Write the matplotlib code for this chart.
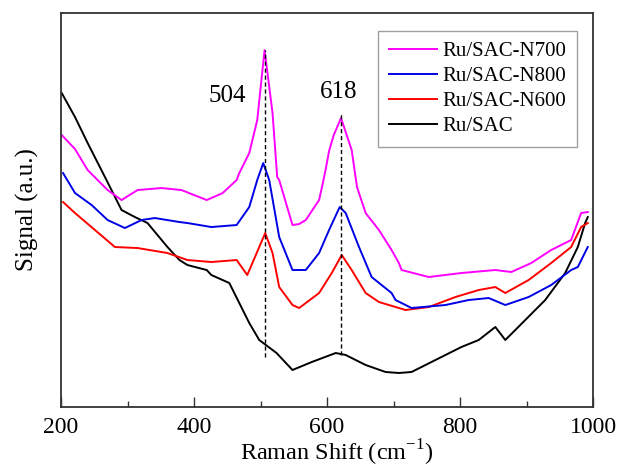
import numpy as np
import matplotlib
matplotlib.use("Agg")
import matplotlib.pyplot as plt
from matplotlib.ticker import MultipleLocator

plt.rcParams['font.family'] = ['Liberation Serif', 'DejaVu Serif']
plt.rcParams['mathtext.fontset'] = 'custom'
plt.rcParams['mathtext.rm'] = 'Liberation Serif'

# Raman shift (cm-1) and signal (a.u.)
x_n700 = [201, 221, 240, 270, 291, 315, 351, 381, 419, 426, 443, 464, 468, 483,
          495, 506, 518, 525, 528, 548, 558, 568, 588, 593, 598, 603, 610, 621,
          637, 645, 658, 678, 697, 708, 712, 753, 802, 853, 877, 907, 937, 967,
          982, 992]
y_n700 = [272, 258, 237, 217, 207, 217, 219, 217, 207, 209, 214, 227, 234, 254,
          287, 357, 294, 230, 227, 182, 183, 187, 207, 222, 238, 256, 272, 289,
          257, 220, 194, 177, 157, 144, 137, 130, 134, 137, 135, 144, 157, 167,
          194, 195]

x_n800 = [203, 221, 246, 270, 296, 321, 341, 378, 390, 426, 464, 483, 495, 504,
          513, 528, 548, 568, 588, 603, 619, 628, 648, 667, 697, 703, 727, 778,
          813, 843, 868, 903, 937, 967, 977, 992]
y_n800 = [234, 214, 202, 187, 179, 187, 189, 185, 184, 180, 182, 200, 227, 244,
          227, 170, 137, 137, 154, 177, 200, 194, 160, 130, 114, 107, 99, 102,
          107, 109, 102, 110, 122, 137, 140, 160]

x_n600 = [203, 221, 251, 281, 315, 360, 390, 426, 464, 480, 498, 507, 518, 528,
          548, 558, 588, 607, 622, 637, 658, 678, 708, 718, 753, 793, 828, 853,
          868, 903, 937, 967, 982, 992]
y_n600 = [205, 194, 177, 160, 159, 154, 147, 145, 147, 132, 160, 174, 154, 120,
          102, 99, 114, 134, 152, 137, 114, 105, 99, 97, 100, 110, 117, 120,
          114, 127, 144, 160, 180, 184]

x_sac = [201, 221, 240, 266, 291, 311, 330, 360, 378, 390, 419, 426, 453, 468,
         483, 498, 524, 548, 577, 613, 628, 658, 688, 708, 727, 763, 802, 828,
         853, 868, 898, 928, 958, 977, 988, 992]
y_sac = [314, 290, 264, 230, 197, 190, 184, 160, 147, 142, 137, 132, 124, 104,
         84, 67, 54, 37, 45, 54, 52, 42, 35, 34, 35, 47, 60, 67, 80, 67, 87,
         107, 134, 160, 184, 190]

peak_x = [507, 621]
peak_top = [357, 295]
peak_bottom = [50, 52]
peak_labels = ['504', '618']

fig = plt.figure(figsize=(6.23, 4.67), dpi=100)
ax = fig.add_axes([0.098, 0.1285, 0.854, 0.8435])

ax.plot(x_sac, y_sac, color='black', lw=1.4, label='Ru/SAC')
ax.plot(x_n600, y_n600, color='#ff0000', lw=1.4, label='Ru/SAC-N600')
ax.plot(x_n800, y_n800, color='#0000e6', lw=1.4, label='Ru/SAC-N800')
ax.plot(x_n700, y_n700, color='#ff00ff', lw=1.4, label='Ru/SAC-N700')

# dashed markers at the two peaks
for px, top, bot in zip(peak_x, peak_top, peak_bottom):
    ax.plot([px, px], [bot, top], color='black', lw=1.0, ls=(0, (3, 2)))

ax.text(450, 311, peak_labels[0], fontsize=18, ha='center', va='center')
ax.text(618, 315, peak_labels[1], fontsize=18, ha='center', va='center')

ax.set_xlim(200, 1000)
ax.set_ylim(0, 394)
ax.xaxis.set_major_locator(MultipleLocator(200))
ax.xaxis.set_minor_locator(MultipleLocator(100))
ax.tick_params(axis='x', which='major', direction='in', length=7, width=1,
               labelsize=17, pad=7, color='#333333')
ax.tick_params(axis='x', which='minor', direction='in', length=4, width=1,
               color='#333333')
ax.set_yticks([])
for s in ax.spines.values():
    s.set_color('#333333')
    s.set_linewidth(1.3)

ax.set_xlabel('Raman Shift (cm$^{-1}$)', fontsize=17.5, labelpad=0)
ax.xaxis.set_label_coords(0.519, -0.079)
ax.set_ylabel('Signal (a.u.)', fontsize=18, labelpad=16)

handles, labels = ax.get_legend_handles_labels()
order = [3, 2, 1, 0]
leg = ax.legend([handles[i] for i in order], [labels[i] for i in order],
                loc='upper right', bbox_to_anchor=(0.970, 0.955),
                borderaxespad=0, fontsize=15, frameon=True, fancybox=False,
                edgecolor='#888888', handlelength=2.3, handletextpad=0.3,
                labelspacing=0.27, borderpad=0.5)
leg.get_frame().set_linewidth(1.0)

fig.savefig('out.png', dpi=100)
